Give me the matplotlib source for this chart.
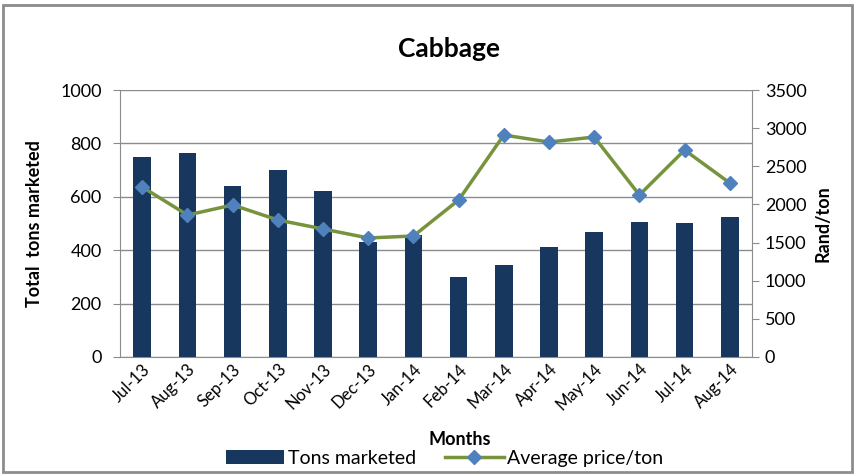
import matplotlib
matplotlib.use("Agg")
import matplotlib.pyplot as plt
import numpy as np
from matplotlib.patches import Rectangle

months = ["Jul-13", "Aug-13", "Sep-13", "Oct-13", "Nov-13", "Dec-13", "Jan-14",
          "Feb-14", "Mar-14", "Apr-14", "May-14", "Jun-14", "Jul-14", "Aug-14"]
tons = [749, 764, 640, 700, 622, 431, 457, 300, 345, 412, 468, 506, 502, 524]
price = [2228, 1861, 1993, 1796, 1678, 1560, 1586, 2058, 2910, 2818, 2884, 2124, 2713, 2281]

plt.rcParams['font.family'] = ['Lato', 'DejaVu Sans']

fig = plt.figure(figsize=(8.55, 4.74), dpi=100)
fig.patches.append(Rectangle((0.004, 0.004), 0.992, 0.985, transform=fig.transFigure,
                             fill=False, edgecolor='#8c8c8c', linewidth=2))
ax = fig.add_axes([0.140, 0.247, 0.740, 0.563])
x = np.arange(len(months))
ax.bar(x, tons, width=0.39, color='#17375E', label='Tons marketed', zorder=3)
ax.set_ylim(0, 1000)
ax.set_yticks(range(0, 1001, 200))
ax.set_xlim(-0.5, len(months) - 0.5)
ax.grid(axis='y', color='#8c8c8c', linewidth=1, zorder=0)
for s in ['top', 'right']:
    ax.spines[s].set_visible(False)
ax.spines['left'].set_color('#8c8c8c')
ax.spines['bottom'].set_color('#8c8c8c')
ax.tick_params(axis='y', length=5, color='#8c8c8c', labelsize=13, pad=8)
ax.tick_params(axis='x', length=0, labelsize=12, pad=3)
ax.set_xticks(x)
ax.set_xticklabels(months, rotation=45, ha='right', rotation_mode='anchor')
ax.set_ylabel('Total  tons marketed', fontsize=13, fontweight='bold', labelpad=12)

ax2 = ax.twinx()
ax2.plot(x, price, color='#77933C', linewidth=2.5, marker='D', markersize=7,
         markerfacecolor='#4F81BD', markeredgecolor='#4F81BD', label='Average price/ton', zorder=4)
ax2.set_ylim(0, 3500)
ax2.set_yticks(range(0, 3501, 500))
for s in ['top', 'left', 'bottom']:
    ax2.spines[s].set_visible(False)
ax2.spines['right'].set_color('#8c8c8c')
ax2.tick_params(axis='y', length=5, color='#8c8c8c', labelsize=13, pad=4)
ax2.set_ylabel('Rand/ton', fontsize=13, fontweight='bold', labelpad=6)

fig.text(0.525, 0.897, 'Cabbage', ha='center', va='center', fontsize=19, fontweight='bold')
fig.text(0.538, 0.072, 'Months', ha='center', va='center', fontsize=13, fontweight='bold')

h1, l1 = ax.get_legend_handles_labels()
h2, l2 = ax2.get_legend_handles_labels()
fig.legend(h1 + h2, l1 + l2, loc='center', bbox_to_anchor=(0.52, 0.033), ncol=2,
           frameon=False, fontsize=14, handlelength=3.0, handletextpad=0.2,
           columnspacing=1.5, borderaxespad=0)

fig.savefig('out.png', dpi=100)
